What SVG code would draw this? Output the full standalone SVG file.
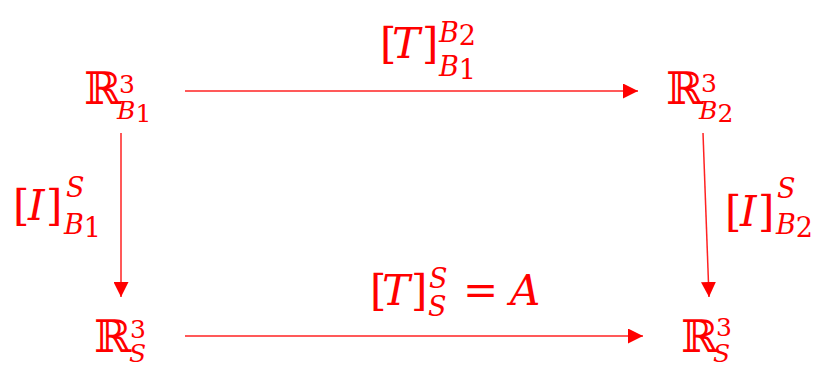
<svg xmlns="http://www.w3.org/2000/svg" width="815" height="367" viewBox="0 0 815 367">
<style>
text{fill:#FF0000;font-family:"DejaVu Serif","Liberation Serif",serif}
.bb{font-size:45px}
.m{font-size:42px}
.s{font-size:25px}
.ls{font-size:27px}
.it{font-style:italic}
.up{font-style:normal}
.c{stroke:#F22;stroke-width:1.5;fill:none}
</style>
<defs>
<marker id="ah" markerUnits="userSpaceOnUse" markerWidth="15" markerHeight="15" refX="15" refY="7.5" orient="auto">
<path d="M0,0 L15,7.5 L0,15 z" fill="#F00"/>
</marker>
</defs>
<g id="connectors">
<path class="c" d="M185,91 H638" marker-end="url(#ah)"/>
<path class="c" d="M121,133 V297" marker-end="url(#ah)"/>
<path class="c" d="M185,336 H643" marker-end="url(#ah)"/>
<path class="c" d="M703,133 L709,297" marker-end="url(#ah)"/>
</g>
<g id="n-RB1">
<text x="84" y="104"><tspan class="bb">ℝ</tspan><tspan class="s" x="119" y="93">3</tspan><tspan class="s it" x="117" y="119">B</tspan><tspan class="s up" dy="3">1</tspan></text>
</g>
<g id="n-RB2">
<text x="666" y="104"><tspan class="bb">ℝ</tspan><tspan class="s" x="701" y="92">3</tspan><tspan class="s it" x="699" y="119">B</tspan><tspan class="s up" dy="3">2</tspan></text>
</g>
<g id="n-RS1">
<text x="94" y="352"><tspan class="bb">ℝ</tspan><tspan class="s" x="130" y="338">3</tspan><tspan class="s it" x="129" y="362">S</tspan></text>
</g>
<g id="n-RS2">
<text x="681" y="352"><tspan class="bb">ℝ</tspan><tspan class="s" x="716" y="336">3</tspan><tspan class="s it" x="713" y="362">S</tspan></text>
</g>
<g id="l-top">
<text class="m" x="380" y="58">[<tspan class="it" x="392">T</tspan><tspan x="422">]</tspan><tspan class="ls it" x="439" y="42">B</tspan><tspan class="ls up" dy="3">2</tspan><tspan class="ls it" x="439" y="76">B</tspan><tspan class="ls up" dy="3">1</tspan></text>
</g>
<g id="l-left">
<text class="m" x="13" y="220">[<tspan class="it" x="28">I</tspan><tspan x="46">]</tspan><tspan class="ls it" x="66" y="197">S</tspan><tspan class="ls it" x="64" y="234">B</tspan><tspan class="ls up" dy="3">1</tspan></text>
</g>
<g id="l-right">
<text class="m" x="725" y="226">[<tspan class="it" x="740">I</tspan><tspan x="758">]</tspan><tspan class="ls it" x="777" y="198">S</tspan><tspan class="ls it" x="776" y="234">B</tspan><tspan class="ls up" dy="3">2</tspan></text>
</g>
<g id="l-bottom">
<text class="m" x="370" y="305">[<tspan class="it" x="382">T</tspan><tspan x="411">]</tspan><tspan class="ls it" x="429" y="288">S</tspan><tspan class="ls it" x="428" y="316">S</tspan><tspan x="463" y="305">=</tspan><tspan class="it" x="510">A</tspan></text>
</g>
</svg>
